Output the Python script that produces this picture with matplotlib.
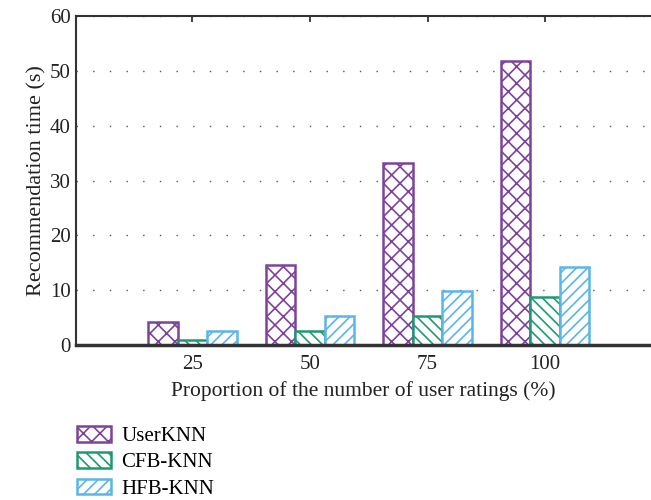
import numpy as np
import matplotlib
matplotlib.use("Agg")
import matplotlib.pyplot as plt

# Data
categories = ["25", "50", "75", "100"]
user_knn = [4.25, 14.5, 33.2, 51.8]
cfb_knn = [1.0, 2.5, 5.2, 8.8]
hfb_knn = [2.5, 5.3, 9.9, 14.3]
series_names = ["UserKNN", "CFB-KNN", "HFB-KNN"]

colors = ["#7D429C", "#1F9A70", "#5AB6E6"]
hatches = ["xx", "\\\\\\", "///"]

plt.rcParams["font.family"] = ["Liberation Serif", "DejaVu Serif"]
plt.rcParams["hatch.linewidth"] = 1.2

fig = plt.figure(figsize=(6.51, 5.0), dpi=100)
ax = fig.add_axes([76 / 651, 1 - 345 / 500, 1 - 76 / 651, (345 - 16) / 500])

x = np.arange(len(categories))
w = 0.251
handles = []
for i, (vals, name) in enumerate(zip([user_knn, cfb_knn, hfb_knn], series_names)):
    b = ax.bar(x + (i - 1) * w, vals, width=w, facecolor="white",
               edgecolor=colors[i], hatch=hatches[i], linewidth=1.8,
               label=name, zorder=3)
    handles.append(b)

ax.set_xlim(-0.99, 3.9)
ax.set_ylim(0, 60)
ax.set_yticks(range(0, 61, 10))
ax.set_xticks(x)
ax.set_xticklabels(categories)

ax.grid(axis="y", linestyle=(0, (1, 11)), color="#555555", linewidth=1.0, zorder=0)
ax.set_axisbelow(True)

for s in ["left", "top", "bottom"]:
    ax.spines[s].set_color("#333333")
ax.spines["right"].set_visible(False)
ax.spines["left"].set_linewidth(1.5)
ax.spines["top"].set_linewidth(1.5)
ax.spines["bottom"].set_linewidth(2.5)
ax.spines["bottom"].set_zorder(4)

ax.tick_params(axis="y", length=0, labelsize=15, pad=4, colors="#222222")
ax.tick_params(axis="x", top=True, bottom=False, direction="in", length=4,
               width=1.2, labelsize=15, pad=7, colors="#222222")

ax.set_xlabel("Proportion of the number of user ratings (%)", fontsize=15.5,
              color="#222222", labelpad=5)
ax.set_ylabel("Recommendation time (s)", fontsize=16, color="#222222", labelpad=2)

fig.legend(handles=handles, loc="upper left", bbox_to_anchor=(69 / 651, 1 - 418 / 500),
           frameon=False, fontsize=15, handlelength=1.6, handleheight=0.75,
           labelspacing=0.3, handletextpad=0.5, borderaxespad=0)

fig.savefig("out.png", dpi=100)
